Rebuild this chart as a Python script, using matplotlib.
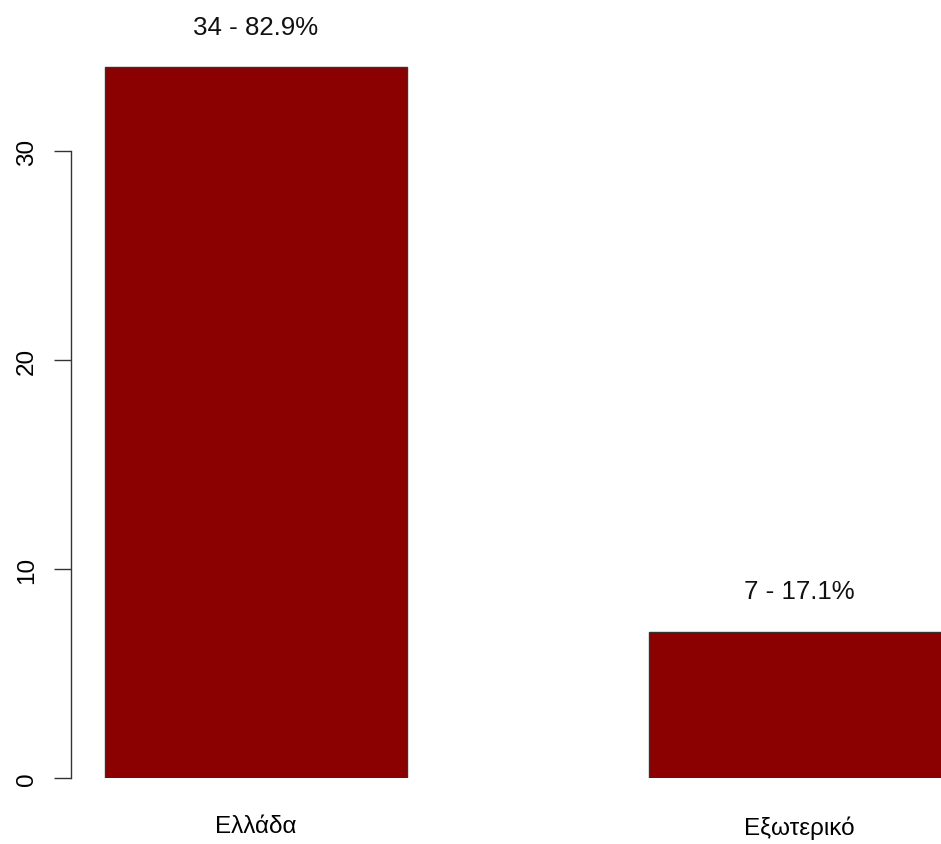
import matplotlib
matplotlib.use("Agg")
import matplotlib.pyplot as plt

categories = ["Ελλάδα", "Εξωτερικό"]
counts = [34, 7]
yticks = [0, 10, 20, 30]

total = sum(counts)
labels = [f"{c} - {c / total * 100:.1f}%" for c in counts]

plt.rcParams['font.family'] = ['Liberation Sans', 'DejaVu Sans']

W, H = 941, 845
fig = plt.figure(figsize=(W / 100, H / 100), dpi=100)
ax = fig.add_axes([71 / W, 66 / H, 870 / W, 779 / H])

positions = [0.0, 1.8]
ax.bar(positions, counts, width=1.0, color="#8B0000", edgecolor="#333333", linewidth=1.0)

for p, c, lab in zip(positions, counts, labels):
    ax.text(p, c + 1.95, lab, ha="center", va="center", fontsize=18.6, color="#111111", clip_on=False)

ax.set_xlim(-185 / 302, 685 / 302)
ax.set_ylim(0, 779 / 20.9)

for s in ["top", "right", "bottom"]:
    ax.spines[s].set_visible(False)
ax.spines["left"].set_bounds(0, 30)
ax.spines["left"].set_color("#333333")
ax.spines["left"].set_linewidth(1.0)

ax.set_yticks(yticks)
ax.set_yticklabels([str(t) for t in yticks], rotation=90, va="center", fontsize=17.5)
ax.tick_params(axis="y", length=12.2, width=1.0, color="#333333", pad=11.5)

ax.set_xticks(positions)
ax.set_xticklabels(categories, fontsize=17.5)
ax.tick_params(axis="x", length=0, pad=27)

fig.savefig("out.png", dpi=100, facecolor="white")
